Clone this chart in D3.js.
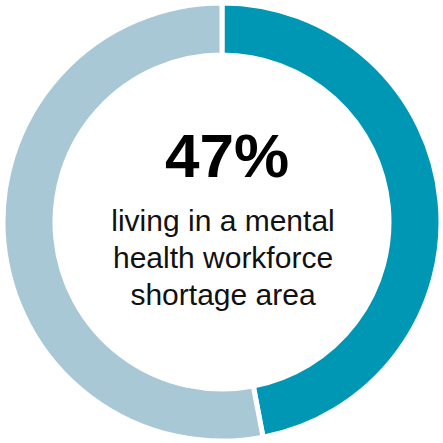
<!DOCTYPE html>
<html>
<head>
<meta charset="utf-8">
<script src="https://cdn.jsdelivr.net/npm/d3@7"></script>
<style>
  body { margin: 0; background: #fff; }
</style>
</head>
<body>
<div id="chart"></div>
<script>
// Data
var segments = ["shortage", "other"];
var shares = [47, 53];
var colors = ["#0097b5", "#a9c8d6"];
var valueLabel = "47%";
var labelLines = ["living in a mental", "health workforce", "shortage area"];

var width = 443;
var height = 443;
var outerR = 219;
var innerR = 167;

var svg = d3.select("#chart")
  .append("svg")
  .attr("width", width)
  .attr("height", height);

var g = svg.append("g")
  .attr("transform", "translate(222,222)");

var pie = d3.pie()
  .sort(null)
  .value(function(d) { return d; });

var arc = d3.arc()
  .innerRadius(innerR)
  .outerRadius(outerR);

g.selectAll(".slice")
  .data(pie(shares))
  .enter()
  .append("path")
  .attr("class", "slice")
  .attr("d", arc)
  .attr("fill", function(d, i) { return colors[i]; })
  .attr("stroke", "#fff")
  .attr("stroke-width", 5);

// Center text
g.append("text")
  .attr("x", 5)
  .attr("y", -45)
  .attr("text-anchor", "middle")
  .style("font-family", "'Liberation Sans', Arial, sans-serif")
  .style("font-weight", "bold")
  .style("font-size", "62px")
  .style("fill", "#000")
  .text(valueLabel);

g.selectAll(".line")
  .data(labelLines)
  .enter()
  .append("text")
  .attr("class", "line")
  .attr("x", 1)
  .attr("y", function(d, i) { return 9 + i * 37; })
  .attr("text-anchor", "middle")
  .style("font-family", "'Liberation Sans', Arial, sans-serif")
  .style("font-size", "30px")
  .style("fill", "#111")
  .text(function(d) { return d; });
</script>
</body>
</html>
